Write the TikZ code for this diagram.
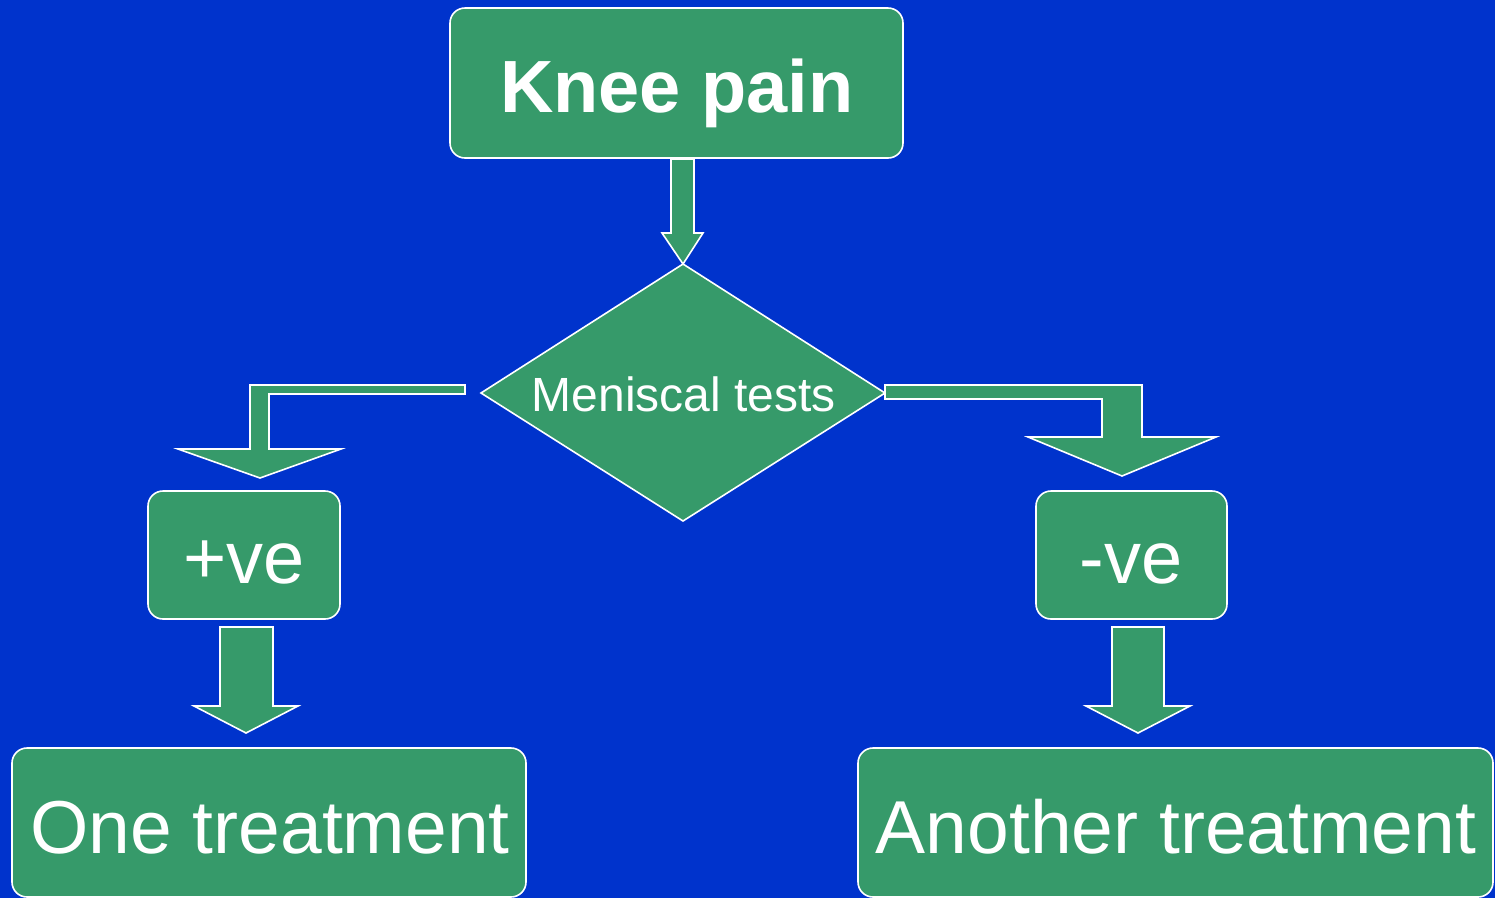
\documentclass[tikz,border=0pt]{standalone}
\usepackage{fontspec}
\setmainfont{Liberation Sans}
\definecolor{bgblue}{RGB}{0,51,204}
\definecolor{boxgreen}{RGB}{54,154,106}
\begin{document}
\begin{tikzpicture}[x=1pt,y=-1pt,
  shapefill/.style={fill=boxgreen,draw=white,line width=1.6pt,line join=miter},
  box/.style={shapefill,rectangle,rounded corners=15pt,inner sep=0pt},
  lbl/.style={text=white,anchor=base,inner sep=0pt},
  big/.style={font=\fontsize{75}{80}\selectfont},
  mid/.style={font=\fontsize{48}{52}\selectfont}]
\useasboundingbox (0,0) rectangle (1495,898);
\fill[bgblue] (0,0) rectangle (1495,898);
\begin{scope}
\clip (0,0) rectangle (1495,898);
% boxes
\node[box,minimum width=453pt,minimum height=150pt] (kp) at (676.5,83) {};
\node[box,minimum width=192pt,minimum height=128pt] (pos) at (244,555) {};
\node[box,minimum width=191pt,minimum height=128pt] (neg) at (1131.5,555) {};
\node[box,minimum width=514pt,minimum height=149pt] (one) at (269,822.5) {};
\node[box,minimum width=635pt,minimum height=149pt] (another) at (1175.5,822.5) {};
% diamond
\coordinate (dN) at (683,264);
\coordinate (dW) at (481,393);
\coordinate (dE) at (885,393);
\coordinate (dS) at (683,521);
\draw[shapefill] (dN) -- (dE) -- (dS) -- (dW) -- cycle;
% block arrows
\draw[shapefill] (671,159) -- (694,159) -- (694,233) -- (703,233) -- (dN) -- (662,233) -- (671,233) -- cycle;
\draw[shapefill] (465,385) -- (250,385) -- (250,449) -- (178,449) -- (260,478) -- (341,449) -- (269,449) -- (269,394) -- (465,394) -- cycle;
\draw[shapefill] (dE) -- (885,385) -- (1142,385) -- (1142,437) -- (1216,437) -- (1122,476) -- (1028,437) -- (1102,437) -- (1102,399) -- (885,399) -- cycle;
\draw[shapefill] (220,627) -- (273,627) -- (273,706) -- (298,706) -- (246,733) -- (194,706) -- (220,706) -- cycle;
\draw[shapefill] (1112,627) -- (1164,627) -- (1164,706) -- (1190,706) -- (1138,733) -- (1086,706) -- (1112,706) -- cycle;
% labels
\node[lbl,font=\fontsize{74}{80}\selectfont\bfseries] (tkp) at (677,112) {Knee pain};
\node[lbl,mid] (tdia) at (684,411) {Meniscal tests};
\node[lbl,font=\fontsize{74}{80}\selectfont] (tpos) at (244,583) {+ve};
\node[lbl,font=\fontsize{74}{80}\selectfont] (tneg) at (1131,583) {-ve};
\node[lbl,big] (tone) at (270,853) {One treatment};
\node[lbl,big] (tanother) at (1176,853) {Another treatment};
\end{scope}
\end{tikzpicture}
\end{document}
